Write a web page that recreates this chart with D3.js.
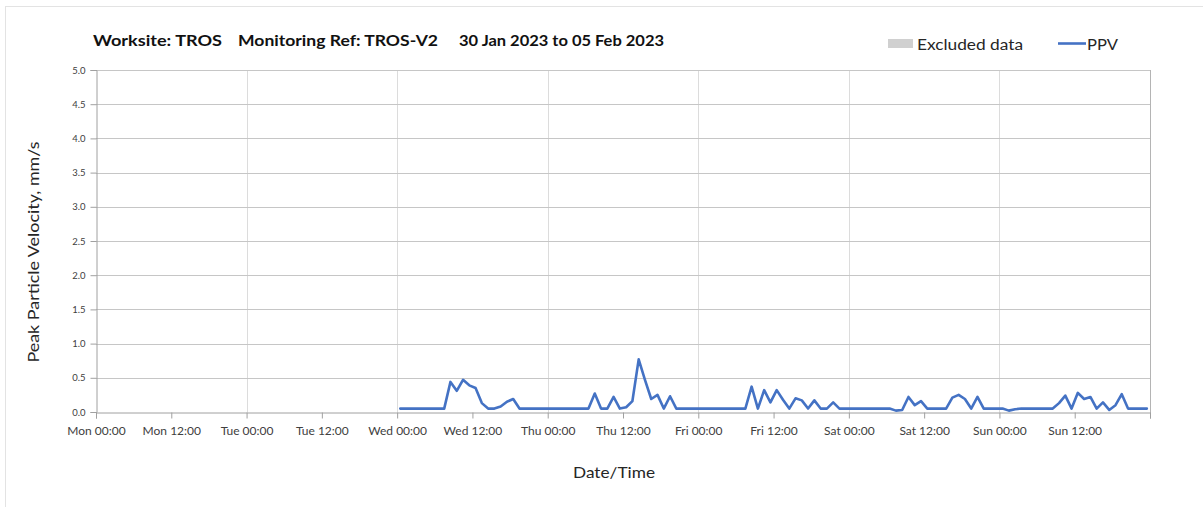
<!DOCTYPE html>
<html>
<head>
<meta charset="utf-8">
<script src="https://cdn.jsdelivr.net/npm/d3@7"></script>
<style>
  html, body { margin: 0; padding: 0; background: #fff; }
  svg { display: block; font-family: Lato, "Open Sans", sans-serif; }
</style>
</head>
<body>
<svg id="chart" width="1203" height="507"></svg>
<script>
// ---- data ----
const titleParts = ["Worksite: TROS", "Monitoring Ref: TROS-V2", "30 Jan 2023 to 05 Feb 2023"];
const legendLabels = ["Excluded data", "PPV"];
const yTicks = [0, 0.5, 1.0, 1.5, 2.0, 2.5, 3.0, 3.5, 4.0, 4.5, 5.0];
const axisStart = new Date(2023, 0, 30, 0, 0);   // Mon 00:00
const axisEnd = new Date(2023, 1, 6, 0, 0);      // next Mon 00:00
const seriesStart = new Date(2023, 1, 1, 0, 30); // Wed 00:30, hourly values
const ppvValues = [
  // Wed
  0.05,0.05,0.05,0.05,0.05,0.05,0.05,0.05,0.44,0.31,0.47,0.39,0.35,0.13,0.05,0.05,0.08,0.15,0.19,0.05,0.05,0.05,0.05,0.05,
  // Thu
  0.05,0.05,0.05,0.05,0.05,0.05,0.05,0.27,0.05,0.05,0.22,0.05,0.07,0.16,0.77,0.47,0.19,0.25,0.05,0.23,0.05,0.05,0.05,0.05,
  // Fri
  0.05,0.05,0.05,0.05,0.05,0.05,0.05,0.05,0.37,0.05,0.32,0.14,0.32,0.18,0.05,0.20,0.17,0.05,0.17,0.05,0.05,0.14,0.05,0.05,
  // Sat
  0.05,0.05,0.05,0.05,0.05,0.05,0.05,0.02,0.03,0.22,0.10,0.16,0.05,0.05,0.05,0.05,0.21,0.25,0.19,0.05,0.22,0.05,0.05,0.05,
  // Sun
  0.05,0.02,0.04,0.05,0.05,0.05,0.05,0.05,0.05,0.13,0.24,0.05,0.28,0.19,0.22,0.05,0.14,0.03,0.10,0.26,0.05,0.05,0.05,0.05
];

const series = ppvValues.map((v, i) => ({ t: d3.timeHour.offset(seriesStart, i), v }));

// ---- layout ----
const svg = d3.select("#chart");
const m = { left: 96, right: 1150, top: 70, bottom: 412 };

const x = d3.scaleTime().domain([axisStart, axisEnd]).range([m.left, m.right]);
const y = d3.scaleLinear().domain([0, 5]).range([m.bottom, m.top]);

// outer frame lines
svg.append("line").attr("x1", 5.5).attr("x2", 5.5).attr("y1", 6).attr("y2", 507).attr("stroke", "#e3e3e3");
svg.append("line").attr("x1", 5).attr("x2", 1203).attr("y1", 6.5).attr("y2", 6.5).attr("stroke", "#e3e3e3");

// vertical gridlines (daily)
const dayTicks = d3.timeDay.range(axisStart, axisEnd);
svg.append("g").selectAll("line").data(dayTicks.slice(1)).join("line")
  .attr("x1", d => Math.round(x(d)) + 0.5).attr("x2", d => Math.round(x(d)) + 0.5)
  .attr("y1", m.top).attr("y2", m.bottom)
  .attr("stroke", "#dcdcdc").attr("stroke-width", 1);

// horizontal gridlines
svg.append("g").selectAll("line").data(yTicks.slice(1)).join("line")
  .attr("x1", m.left).attr("x2", m.right)
  .attr("y1", d => Math.round(y(d)) + 0.5).attr("y2", d => Math.round(y(d)) + 0.5)
  .attr("stroke", "#c6c6c6").attr("stroke-width", 1);

// right border
svg.append("line").attr("x1", m.right + 0.5).attr("x2", m.right + 0.5)
  .attr("y1", m.top).attr("y2", m.bottom + 5).attr("stroke", "#b4b4b4");

// y axis
const yAxis = d3.axisLeft(y).tickValues(yTicks).tickFormat(d3.format(".1f")).tickSize(6).tickPadding(5);
const gy = svg.append("g").attr("transform", `translate(${m.left + 0.5},0)`).call(yAxis);
gy.select(".domain").attr("stroke", "#a0a0a0");
gy.selectAll(".tick line").attr("stroke", "#a0a0a0");
gy.selectAll(".tick text").attr("font-size", 9.5).attr("fill", "#404040").attr("font-family", "Lato, sans-serif");

// x axis
const xTickVals = d3.timeHour.every(12).range(axisStart, d3.timeHour.offset(axisEnd, 1));
const fmt = d3.timeFormat("%a %H:%M");
const xAxis = d3.axisBottom(x).tickValues(xTickVals)
  .tickFormat(d => (+d === +axisEnd ? "" : fmt(d))).tickSize(6).tickPadding(8);
const gx = svg.append("g").attr("transform", `translate(0,${m.bottom + 0.5})`).call(xAxis);
gx.select(".domain").attr("stroke", "#a0a0a0");
gx.selectAll(".tick line").attr("stroke", "#a0a0a0");
gx.selectAll(".tick text").attr("font-size", 12).attr("fill", "#404040").attr("font-family", "Lato, sans-serif");

// line
const line = d3.line().x(d => x(d.t)).y(d => y(d.v));
svg.append("path").datum(series)
  .attr("d", line).attr("fill", "none")
  .attr("stroke", "#4472c4").attr("stroke-width", 2.6)
  .attr("stroke-linejoin", "round").attr("stroke-linecap", "round");

// title
const titleX = [93, 238, 459];
const titleW = [129, 200, 205];
svg.append("g").selectAll("text").data(titleParts).join("text")
  .attr("x", (d, i) => titleX[i]).attr("y", 46)
  .attr("font-size", 16).attr("font-weight", "bold").attr("fill", "#111")
  .attr("textLength", (d, i) => titleW[i]).attr("lengthAdjust", "spacingAndGlyphs")
  .text(d => d);

// legend
svg.append("rect").attr("x", 888).attr("y", 39).attr("width", 25).attr("height", 9).attr("fill", "#d0d0d0");
svg.append("text").attr("x", 917).attr("y", 50).attr("font-size", 15.5).attr("fill", "#262626")
  .attr("textLength", 106).attr("lengthAdjust", "spacingAndGlyphs").text(legendLabels[0]);
svg.append("line").attr("x1", 1058).attr("x2", 1086).attr("y1", 43.5).attr("y2", 43.5)
  .attr("stroke", "#4472c4").attr("stroke-width", 2.6);
svg.append("text").attr("x", 1087).attr("y", 50).attr("font-size", 15.5).attr("fill", "#262626")
  .attr("textLength", 31).attr("lengthAdjust", "spacingAndGlyphs").text(legendLabels[1]);

// axis titles
svg.append("text").attr("transform", "translate(39,252) rotate(-90)")
  .attr("text-anchor", "middle").attr("font-size", 15.5).attr("fill", "#262626")
  .attr("textLength", 221).attr("lengthAdjust", "spacingAndGlyphs")
  .text("Peak Particle Velocity, mm/s");
svg.append("text").attr("x", 614).attr("y", 478).attr("text-anchor", "middle")
  .attr("font-size", 16).attr("fill", "#262626")
  .attr("textLength", 82).attr("lengthAdjust", "spacingAndGlyphs").text("Date/Time");
</script>
</body>
</html>
